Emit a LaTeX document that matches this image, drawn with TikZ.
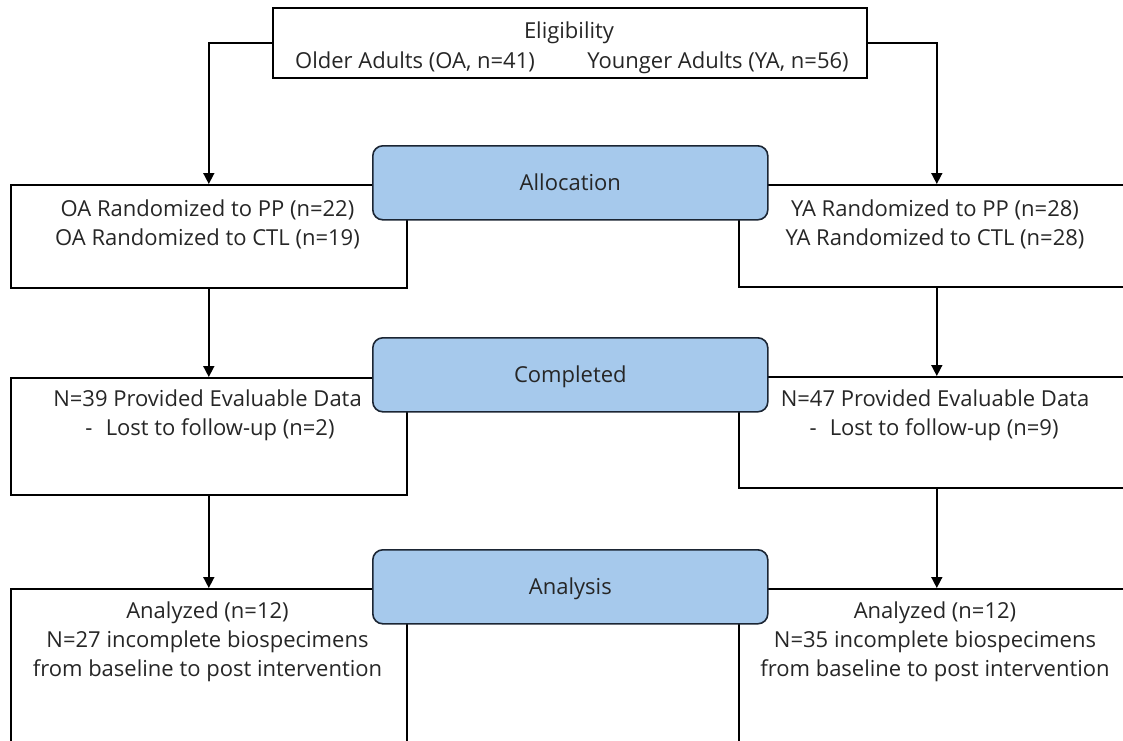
\documentclass[tikz,border=0pt]{standalone}
\usepackage{fontspec}
\setmainfont{Open Sans}
\usetikzlibrary{arrows.meta}
\definecolor{txtc}{HTML}{262626}
\definecolor{bluef}{HTML}{A6C9EC}
\definecolor{blued}{HTML}{1B2533}
\begin{document}
\begin{tikzpicture}[x=1pt,y=-1pt,
  wbox/.style={draw=black, line width=1.6pt, fill=white, anchor=north west, inner sep=0pt},
  stage/.style={draw=blued, line width=1.6pt, fill=bluef, rounded corners=10pt, anchor=north west,
    inner sep=0pt, minimum width=395pt, minimum height=74pt, text=txtc,
    font=\fontsize{22}{26}\selectfont, text height=15.5pt, text depth=0pt},
  lbl/.style={anchor=base, inner sep=0pt, text=txtc, font=\fontsize{22}{26}\selectfont},
  conn/.style={line width=1.6pt, -{Triangle[length=11pt,width=11pt]}}
]
\useasboundingbox (0,0) rectangle (1123,740);
\clip (0,0) rectangle (1123,740);

% boxes
\node[wbox, minimum width=594pt, minimum height=70pt] (elig) at (272,7) {};
\node[wbox, minimum width=396pt, minimum height=103pt] (oa1) at (10,184) {};
\node[wbox, minimum width=396pt, minimum height=102pt] (ya1) at (738,184) {};
\node[wbox, minimum width=396pt, minimum height=117pt] (oa2) at (10,377) {};
\node[wbox, minimum width=396pt, minimum height=111pt] (ya2) at (738,376) {};
\node[wbox, minimum width=396pt, minimum height=180pt] (oa3) at (10,588) {};
\node[wbox, minimum width=396pt, minimum height=180pt] (ya3) at (738,588) {};

% stage boxes
\node[stage] (alloc) at (372,145) {Allocation};
\node[stage] (comp) at (372,337) {Completed};
\node[stage] (anal) at (372,549) {Analysis};

% texts
\node[lbl] (t0) at (569,38) {Eligibility};
\node[lbl] (t1) at (415,68) {Older Adults (OA, n=41)};
\node[lbl] (t2) at (718,68) {Younger Adults (YA, n=56)};
\node[lbl] (oa1a) at (207.5,216) {OA Randomized to PP (n=22)};
\node[lbl] (oa1b) at (207.5,245) {OA Randomized to CTL (n=19)};
\node[lbl] (ya1a) at (935,216) {YA Randomized to PP (n=28)};
\node[lbl] (ya1b) at (935,245) {YA Randomized to CTL (n=28)};
\node[lbl] (oa2a) at (207.5,406) {N=39 Provided Evaluable Data};
\node[lbl] (oa2b) at (210,435) {-\hspace{0.6em}Lost to follow-up (n=2)};
\node[lbl] (ya2a) at (935,406) {N=47 Provided Evaluable Data};
\node[lbl] (ya2b) at (934,435) {-\hspace{0.6em}Lost to follow-up (n=9)};
\node[lbl] (oa3a) at (207.5,618) {Analyzed (n=12)};
\node[lbl] (oa3b) at (207.5,647) {N=27 incomplete biospecimens};
\node[lbl] (oa3c) at (207.5,676) {from baseline to post intervention};
\node[lbl] (ya3a) at (935,618) {Analyzed (n=12)};
\node[lbl] (ya3b) at (935,647) {N=35 incomplete biospecimens};
\node[lbl] (ya3c) at (935,676) {from baseline to post intervention};

% connectors
\draw[conn] (elig.west) -| (oa1.north);
\draw[conn] (elig.east) -| (ya1.north);
\draw[conn] (oa1.south) -- (oa2.north);
\draw[conn] (ya1.south) -- (ya2.north);
\draw[conn] (oa2.south) -- (oa3.north);
\draw[conn] (ya2.south) -- (ya3.north);
\end{tikzpicture}
\end{document}
